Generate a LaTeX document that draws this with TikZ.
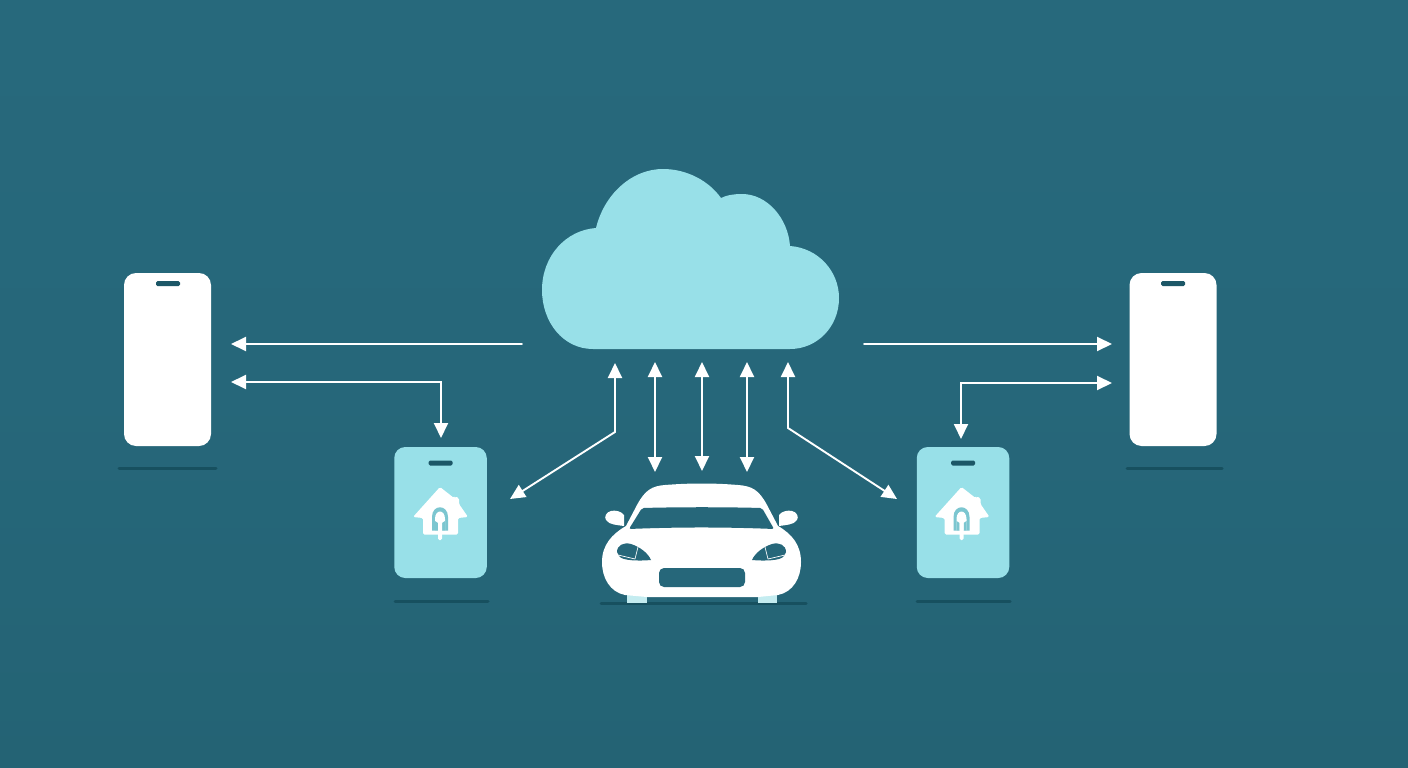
\documentclass[tikz,border=0pt]{standalone}
\usetikzlibrary{arrows.meta}
\definecolor{bgteal}{HTML}{26677A}
\definecolor{bgtealdark}{HTML}{246374}
\definecolor{bgteallight}{HTML}{27697C}
\definecolor{skyblue}{HTML}{98E0E8}
\definecolor{doorblue}{HTML}{7CC6D0}
\definecolor{darkline}{HTML}{17505F}
\definecolor{tirelight}{HTML}{C4ECF0}
\tikzset{
  phonewhite/.style={draw=none, fill=white, rounded corners=12pt, minimum width=87pt, minimum height=173pt, inner sep=0pt},
  phoneblue/.style={draw=none, fill=skyblue, rounded corners=11pt, minimum width=92.5pt, minimum height=131pt, inner sep=0pt},
  notch/.style={draw=none, fill=darkline!70!bgteal, rounded corners=1.5pt, minimum width=24pt, minimum height=5pt, inner sep=0pt},
  link/.style={draw=white, line width=1.9pt, -{Triangle[length=15pt,width=14pt]}},
  duplex/.style={draw=white, line width=1.9pt, {Triangle[length=15pt,width=14pt]}-{Triangle[length=15pt,width=14pt]}},
  floorline/.style={draw=darkline, line width=3pt, line cap=round},
  homeicon/.pic={
    \fill[white, rounded corners=1.5pt] (0,0) -- (14,11) -- (15,9.5) -- (19,11) -- (19,17) -- (28,30) -- (18,31)
      -- (18,47.5) -- (-17,47.5) -- (-17,31) -- (-27,30) -- cycle;
    \fill[doorblue] (-8,43.5) -- (-8,30) .. controls (-8,17) and (8,17) .. (8,30) -- (8,43.5) -- cycle;
    \fill[white] (-5,43.5) -- (-5,32) .. controls (-5,22) and (5,22) .. (5,32) -- (5,43.5) -- cycle;
    \fill[doorblue] (-5,43.5) -- (-5,34) -- (-2,36) -- (-2,43.5) -- cycle;
    \fill[doorblue] (5,43.5) -- (5,34) -- (2,36) -- (2,43.5) -- cycle;
    \fill[white, rounded corners=1.5pt] (-2,34) rectangle (2,53);
  }
}
\begin{document}
\begin{tikzpicture}[x=1pt, y=-1pt, line cap=round]
  \useasboundingbox (0,0) rectangle (1408,768);
  \shade[top color=bgteallight, bottom color=bgtealdark, middle color=bgteal] (0,0) rectangle (1408,768);

  % cloud
  \fill[skyblue] (593,349) .. controls (563,349) and (542,322) .. (542,290)
    .. controls (542,256) and (566,230) .. (596,228)
    .. controls (604,195) and (631,169) .. (663,169)
    .. controls (687,169) and (709,181) .. (721,198)
    .. controls (727,195) and (734,194) .. (742,194)
    .. controls (767,194) and (788,218) .. (790,246)
    .. controls (818,248) and (839,271) .. (839,298)
    .. controls (839,327) and (817,349) .. (790,349) -- cycle;

  % phones
  \node[phonewhite] (phoneL) at (167.5,359.5) {};
  \node[notch] (notchL) at (168,283.5) {};
  \draw[floorline] (119,468) -- (216,468);
  \node[phonewhite] (phoneR) at (1173,359.5) {};
  \node[notch] (notchR) at (1173,283.5) {};
  \draw[floorline] (1127,468) -- (1222,468);
  \node[phoneblue] (homeL) at (440.5,512.5) {};
  \node[notch] (notchHL) at (440.5,463) {};
  \draw[floorline] (395,601) -- (488,601);
  \node[phoneblue] (homeR) at (963,512.5) {};
  \node[notch] (notchHR) at (963,463) {};
  \draw[floorline] (917,601) -- (1010,601);
  \pic at (440,487) {homeicon};
  \pic at (961.5,487) {homeicon};

  % car
  \draw[floorline] (601,603.5) -- (806,603.5);
  \fill[tirelight] (627,590) rectangle (647,603);
  \fill[tirelight] (758,590) rectangle (777,603);
  \fill[white] (647,597) -- (625,595) .. controls (610,592) and (602,578) .. (602,562)
    .. controls (602,545) and (612,534) .. (626,526) -- (637,505)
    .. controls (645,490) and (652,486) .. (665,485)
    .. controls (690,483) and (714,483) .. (738,485)
    .. controls (752,486) and (759,490) .. (767,505) -- (778,526)
    .. controls (792,534) and (801,545) .. (801,562)
    .. controls (801,578) and (793,592) .. (778,595) -- (758,597) -- cycle;
  \fill[white] (624,515) .. controls (621,511) and (615,510) .. (611,511)
    .. controls (606,512) and (604,517) .. (606,520)
    .. controls (609,525) and (618,525) .. (624,526) -- cycle;
  \fill[white] (779,515) .. controls (782,511) and (788,510) .. (792,511)
    .. controls (797,512) and (799,517) .. (797,520)
    .. controls (794,525) and (785,525) .. (779,526) -- cycle;
  % windshield, lamps, plate
  \fill[bgteal, rounded corners=2pt] (642,508) .. controls (680,507) and (724,507) .. (762,508) -- (774,529)
    .. controls (725,527) and (678,527) .. (629,529) -- cycle;
  \fill[bgteal] (617,552) .. controls (617,545) and (624,542) .. (631,544)
    .. controls (640,547) and (648,553) .. (651,560)
    .. controls (640,561) and (622,561) .. (619,556) -- cycle;
  \fill[bgteal] (786,552) .. controls (786,545) and (779,542) .. (772,544)
    .. controls (763,547) and (755,553) .. (752,560)
    .. controls (763,561) and (781,561) .. (784,556) -- cycle;
  \draw[white, line width=0.7pt] (638,547) -- (635,559) (618,555) -- (635,559);
  \draw[white, line width=0.7pt] (765,547) -- (768,559) (785,555) -- (768,559);
  \fill[bgteal, rounded corners=5pt] (659,568) rectangle (745,587);

  % end points of the arrows
  \coordinate (tailUL) at (522,344);
  \coordinate (tipUL) at (231,344);
  \coordinate (tipLL) at (231,382);
  \coordinate (bendLL) at (441,382);
  \coordinate (tipHL) at (441,438);
  \coordinate (tailUR) at (864,344);
  \coordinate (tipUR) at (1112,344);
  \coordinate (tipLR) at (1112,383);
  \coordinate (bendLR) at (961,383);
  \coordinate (tipHR) at (961,439);
  \coordinate (cloudA) at (615,363);
  \coordinate (bendA) at (615,432);
  \coordinate (endA) at (510,499);
  \coordinate (cloudB) at (655,362);
  \coordinate (carB) at (655,472);
  \coordinate (cloudC) at (702,362);
  \coordinate (carC) at (702,471);
  \coordinate (cloudD) at (747,362);
  \coordinate (carD) at (747,472);
  \coordinate (cloudE) at (788,362);
  \coordinate (bendE) at (788,428);
  \coordinate (endE) at (897,499);

  \draw[link] (tailUL) -- (tipUL);
  \draw[duplex] (tipLL) -- (bendLL) -- (tipHL);
  \draw[link] (tailUR) -- (tipUR);
  \draw[duplex] (tipLR) -- (bendLR) -- (tipHR);
  \draw[duplex] (cloudA) -- (bendA) -- (endA);
  \draw[duplex] (cloudB) -- (carB);
  \draw[duplex] (cloudC) -- (carC);
  \draw[duplex] (cloudD) -- (carD);
  \draw[duplex] (cloudE) -- (bendE) -- (endE);
\end{tikzpicture}
\end{document}
